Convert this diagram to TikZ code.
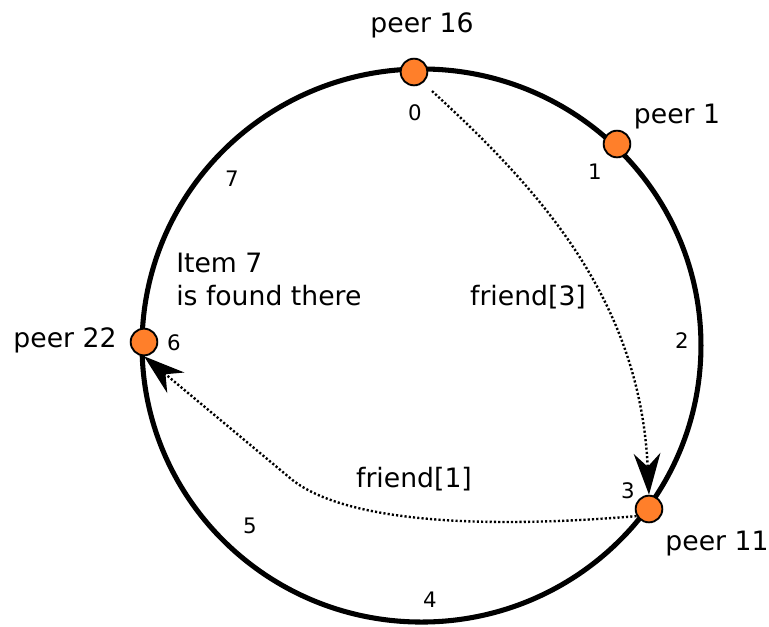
\documentclass[tikz,border=0pt]{standalone}
\usepackage{fontspec}
\setmainfont{DejaVu Sans}
\usetikzlibrary{arrows.meta}
\definecolor{peerorange}{HTML}{FF7F2A}

\begin{document}
\begin{tikzpicture}[x=0.75pt, y=-0.75pt,
  >={Stealth[length=31pt, width=20pt, inset=10pt]},
  peer/.style={circle, draw, fill=peerorange, line width=1.4pt, minimum size=20pt, inner sep=0pt},
  lbl/.style={anchor=base, font=\fontsize{20}{24}\selectfont, inner sep=0pt},
  num/.style={anchor=base, font=\fontsize{16}{19}\selectfont, inner sep=0pt},
  friend/.style={->, line width=1.8pt, dash pattern=on 1.6pt off 1.6pt}]
  \useasboundingbox (0,0) rectangle (769,626);
  % the ring
  \draw[line width=3.8pt] (421.5,345.5) ellipse [x radius=209.6pt, y radius=207.4pt];
  % peers on the ring
  \node[peer] (p16) at (414,72) {};
  \node[peer] (p1) at (617,144) {};
  \node[peer] (p22) at (144,342) {};
  \node[peer] (p11) at (649,509) {};
  \node[lbl] (l16) at (422,32) {peer 16};
  \node[lbl] (l1) at (677,123) {peer 1};
  \node[lbl] (l22) at (65,347) {peer 22};
  \node[lbl] (l11) at (717,550) {peer 11};
  % slot numbers
  \node[num] (n0) at (415,120) {0};
  \node[num] (n1) at (595,179) {1};
  \node[num] (n2) at (682,348) {2};
  \node[num] (n3) at (628,498) {3};
  \node[num] (n4) at (430,607) {4};
  \node[num] (n5) at (250,533) {5};
  \node[num] (n6) at (174,350) {6};
  \node[num] (n7) at (232,186) {7};
  \node[lbl, anchor=base west] (item) at (176,272) {Item 7};
  \node[lbl, anchor=base west] (found) at (176,305) {is found there};
  % friend pointers
  \draw[friend, shorten <=9pt] (p16.-50) .. controls (540,190) and (640,300) .. (p11.north);
  \draw[friend] (p11.210) .. controls (470,530) and (340,520) .. (290,478) -- (p22.south);
  \node[lbl] (f3) at (528,305) {friend[3]};
  \node[lbl] (f1) at (414,487) {friend[1]};
\end{tikzpicture}
\end{document}
